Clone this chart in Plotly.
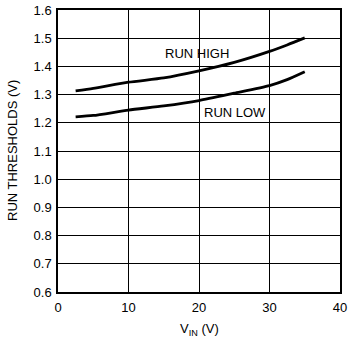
import plotly.graph_objects as go

vin = [2.5, 5, 10, 15, 20, 25, 30, 32.5, 35]
run_high = [1.313, 1.322, 1.344, 1.359, 1.384, 1.414, 1.453, 1.476, 1.501]
run_low = [1.221, 1.226, 1.245, 1.260, 1.279, 1.305, 1.332, 1.353, 1.381]

x_ticks = [0, 10, 20, 30, 40]
y_ticks = [0.6, 0.7, 0.8, 0.9, 1.0, 1.1, 1.2, 1.3, 1.4, 1.5, 1.6]

FONT = "Liberation Sans, Arial, sans-serif"
TF = dict(family=FONT, size=13, color="black")

fig = go.Figure()
for ys in (run_high, run_low):
    fig.add_trace(go.Scatter(x=vin, y=ys, mode="lines",
                             line=dict(color="black", width=2.8, shape="spline", smoothing=0.6),
                             showlegend=False, hoverinfo="skip"))

fig.add_annotation(x=19.7, y=1.446, text="RUN HIGH", showarrow=False, font=TF)
fig.add_annotation(x=25.1, y=1.236, text="RUN LOW", showarrow=False, font=TF)

# axis titles
fig.add_annotation(xref="paper", yref="paper", x=0.5, y=0, yshift=-37, yanchor="middle",
                   text="V<sub>IN</sub> (V)", showarrow=False, font=TF)
fig.add_annotation(xref="paper", yref="paper", x=0, y=0.5, xshift=-46, xanchor="center",
                   textangle=-90, text="RUN THRESHOLDS (V)", showarrow=False, font=TF)

axis_common = dict(showgrid=True, gridcolor="black", gridwidth=1, showline=True, linecolor="black",
                   linewidth=1.5, mirror=True, ticks="", zeroline=False, tickfont=TF, automargin=False)
fig.update_xaxes(range=[0, 40], tickvals=x_ticks, ticktext=[str(v) for v in x_ticks],
                 ticklabelstandoff=3, **axis_common)
fig.update_yaxes(range=[0.6, 1.6], tickvals=y_ticks, ticktext=[f"{v:.1f}" for v in y_ticks],
                 ticklabelstandoff=2, **axis_common)

fig.update_layout(width=352, height=343, margin=dict(l=58, r=12, t=10, b=51),
                  plot_bgcolor="white", paper_bgcolor="white", font=dict(family=FONT, color="black"))
fig.write_html("out.html", config={"displayModeBar": False},
               post_script="document.body.style.margin='0';document.body.style.overflow='hidden';")
